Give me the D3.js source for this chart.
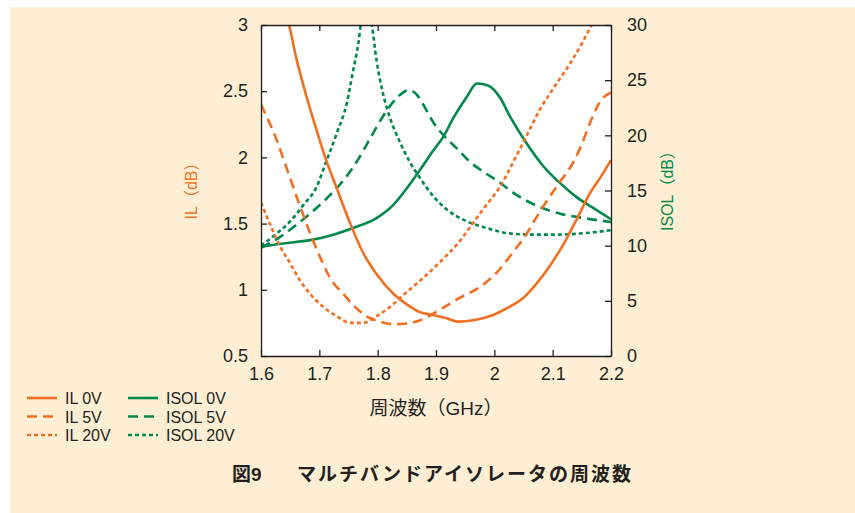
<!DOCTYPE html>
<html>
<head>
<meta charset="utf-8">
<script src="https://cdn.jsdelivr.net/npm/d3@7"></script>
<style>
  body { margin: 0; background: #ffffff; }
  svg text { font-family: "Liberation Sans", Arial, "Noto Sans CJK JP", sans-serif; fill: #231f20; }
  .tick text { font-size: 18px; }
</style>
</head>
<body>
<div id="chart"></div>
<script>
// frequency axis (GHz)
const xTicks = [1.6, 1.7, 1.8, 1.9, 2.0, 2.1, 2.2];
const ilTicks = [0.5, 1, 1.5, 2, 2.5, 3];
const isolTicks = [0, 5, 10, 15, 20, 25, 30];

// IL (dB), left axis
const il0Freq = [1.640, 1.648, 1.661, 1.678, 1.695, 1.710, 1.727, 1.753, 1.775, 1.798, 1.827, 1.850, 1.873, 1.895, 1.918, 1.938, 1.964, 1.998, 2.021, 2.050, 2.073, 2.095, 2.118, 2.141, 2.164, 2.185, 2.200];
const il0Val  = [3.10, 3.00, 2.74, 2.46, 2.21, 2.00, 1.80, 1.50, 1.28, 1.12, 0.97, 0.89, 0.83, 0.81, 0.785, 0.76, 0.77, 0.81, 0.86, 0.94, 1.05, 1.18, 1.34, 1.53, 1.73, 1.87, 1.98];

const il5Freq = [1.600, 1.627, 1.647, 1.667, 1.684, 1.701, 1.721, 1.741, 1.758, 1.781, 1.804, 1.827, 1.850, 1.873, 1.907, 1.941, 1.975, 2.004, 2.033, 2.055, 2.067, 2.084, 2.110, 2.135, 2.150, 2.164, 2.181, 2.200];
const il5Val  = [2.40, 2.13, 1.88, 1.63, 1.43, 1.25, 1.07, 0.97, 0.885, 0.80, 0.76, 0.74, 0.745, 0.77, 0.85, 0.94, 1.02, 1.13, 1.29, 1.42, 1.51, 1.63, 1.80, 1.96, 2.10, 2.26, 2.42, 2.49];

const il20Freq = [1.600, 1.615, 1.633, 1.650, 1.667, 1.684, 1.707, 1.730, 1.753, 1.775, 1.798, 1.821, 1.844, 1.873, 1.907, 1.941, 1.958, 1.981, 2.010, 2.033, 2.055, 2.078, 2.107, 2.130, 2.150, 2.167, 2.175];
const il20Val  = [1.66, 1.50, 1.325, 1.20, 1.07, 0.97, 0.87, 0.80, 0.75, 0.75, 0.80, 0.87, 0.96, 1.07, 1.21, 1.37, 1.47, 1.61, 1.78, 1.97, 2.16, 2.36, 2.56, 2.71, 2.86, 3.00, 3.06];

// ISOL (dB), right axis
const isol0Freq = [1.600, 1.638, 1.684, 1.724, 1.758, 1.798, 1.827, 1.850, 1.873, 1.895, 1.913, 1.930, 1.953, 1.970, 1.990, 2.010, 2.027, 2.055, 2.084, 2.110, 2.141, 2.170, 2.200];
const isol0Val  = [9.9, 10.2, 10.5, 11.0, 11.6, 12.5, 13.7, 15.2, 16.9, 18.6, 19.9, 21.6, 23.5, 24.7, 24.5, 23.4, 21.7, 19.3, 17.2, 15.8, 14.4, 13.4, 12.4];

const isol5Freq = [1.600, 1.633, 1.661, 1.684, 1.713, 1.741, 1.764, 1.787, 1.810, 1.833, 1.853, 1.867, 1.878, 1.895, 1.913, 1.936, 1.958, 1.987, 2.007, 2.038, 2.078, 2.113, 2.153, 2.200];
const isol5Val  = [9.8, 10.8, 11.9, 12.9, 14.3, 15.9, 17.6, 19.7, 21.8, 23.4, 24.1, 23.7, 22.8, 21.2, 20.0, 18.8, 17.6, 16.5, 15.8, 14.6, 13.5, 12.9, 12.5, 12.15];

const isol20Freq = [1.600, 1.627, 1.650, 1.673, 1.695, 1.713, 1.730, 1.747, 1.758, 1.767, 1.771, 1.780, 1.790, 1.798, 1.810, 1.821, 1.838, 1.855, 1.873, 1.895, 1.918, 1.953, 1.987, 2.027, 2.067, 2.107, 2.147, 2.200];
const isol20Val  = [10.0, 11.1, 12.2, 13.7, 15.3, 17.8, 20.2, 22.9, 25.9, 28.4, 30.0, 32.0, 30.0, 26.8, 23.6, 21.6, 19.4, 17.6, 16.1, 14.5, 13.3, 12.2, 11.6, 11.1, 11.0, 11.0, 11.1, 11.4];

const legendLabels = [["IL 0V", "IL 5V", "IL 20V"], ["ISOL 0V", "ISOL 5V", "ISOL 20V"]];

const orange = "#f26f21";
const green = "#00894a";
const dashes = [null, "10,6", "4,3"];

let w = 855, h = 513;
let pLeft = 261, pRight = 611, pTop = 25, pBottom = 356;

var svg = d3.select("#chart")
    .append("svg")
    .attr("width", w)
    .attr("height", h);

svg.append("rect")
    .attr("x", 10).attr("y", 7)
    .attr("width", w - 10).attr("height", h - 7)
    .attr("fill", "#feefd4");

svg.append("rect")
    .attr("x", pLeft).attr("y", pTop)
    .attr("width", pRight - pLeft).attr("height", pBottom - pTop)
    .attr("fill", "#ffffff");

var xScale = d3.scaleLinear().domain([1.6, 2.2]).range([pLeft, pRight]);
var yIL = d3.scaleLinear().domain([0.5, 3]).range([pBottom, pTop]);
var yISOL = d3.scaleLinear().domain([0, 30]).range([pBottom, pTop]);

svg.append("defs").append("clipPath").attr("id", "plotclip")
    .append("rect")
    .attr("x", pLeft).attr("y", pTop)
    .attr("width", pRight - pLeft).attr("height", pBottom - pTop);

function drawSeries(freq, val, yScale, color, dash){
    let pts = freq.map(function(f, i){ return [f, val[i]]; });
    let line = d3.line()
        .x(function(d){ return xScale(d[0]); })
        .y(function(d){ return yScale(d[1]); })
        .curve(d3.curveMonotoneX);
    svg.append("path")
        .datum(pts)
        .attr("clip-path", "url(#plotclip)")
        .attr("d", line)
        .attr("fill", "none")
        .attr("stroke", color)
        .attr("stroke-width", 2.6)
        .attr("stroke-dasharray", dash);
}

drawSeries(isol0Freq, isol0Val, yISOL, green, dashes[0]);
drawSeries(isol5Freq, isol5Val, yISOL, green, dashes[1]);
drawSeries(isol20Freq, isol20Val, yISOL, green, dashes[2]);
drawSeries(il0Freq, il0Val, yIL, orange, dashes[0]);
drawSeries(il5Freq, il5Val, yIL, orange, dashes[1]);
drawSeries(il20Freq, il20Val, yIL, orange, dashes[2]);

// axes, ticks pointing inward
var fmt = function(d){ return String(d); };

svg.append("g")
    .attr("transform", "translate(0," + pBottom + ")")
    .call(d3.axisBottom(xScale).tickValues(xTicks).tickFormat(fmt).tickSizeInner(-6).tickSizeOuter(0).tickPadding(11));

svg.append("g")
    .attr("transform", "translate(0," + pTop + ")")
    .call(d3.axisTop(xScale).tickValues(xTicks).tickFormat("").tickSizeInner(-6).tickSizeOuter(0));

svg.append("g")
    .attr("transform", "translate(" + pLeft + ",0)")
    .call(d3.axisLeft(yIL).tickValues(ilTicks).tickFormat(fmt).tickSizeInner(-6).tickSizeOuter(0).tickPadding(13));

svg.append("g")
    .attr("transform", "translate(" + pRight + ",0)")
    .call(d3.axisRight(yISOL).tickValues(isolTicks).tickFormat(fmt).tickSizeInner(-6).tickSizeOuter(0).tickPadding(16));

svg.selectAll(".domain").attr("stroke", "#231f20").attr("stroke-width", 1.3);
svg.selectAll(".tick line").attr("stroke", "#231f20").attr("stroke-width", 1.3);
svg.selectAll(".tick text").style("fill", "#231f20");

// axis titles
svg.append("text")
    .attr("transform", "translate(197,187) rotate(-90)")
    .style("text-anchor", "middle")
    .style("font-size", "16px")
    .style("fill", orange)
    .text("IL（dB）");

svg.append("text")
    .attr("transform", "translate(673,187) rotate(-90)")
    .style("text-anchor", "middle")
    .style("font-size", "16px")
    .style("fill", green)
    .text("ISOL（dB）");

svg.append("text")
    .attr("x", 436).attr("y", 415)
    .style("text-anchor", "middle")
    .style("font-size", "19px")
    .text("周波数（GHz）");

// legend
legendLabels.forEach(function(col, c){
    let lx = c == 0 ? 27 : 128;
    let color = c == 0 ? orange : green;
    col.forEach(function(lab, r){
        let ly = 398 + r * 18.5;
        svg.append("line")
            .attr("x1", lx).attr("x2", lx + 30)
            .attr("y1", ly).attr("y2", ly)
            .attr("stroke", color)
            .attr("stroke-width", 2.6)
            .attr("stroke-dasharray", dashes[r]);
        svg.append("text")
            .attr("x", lx + 38).attr("y", ly + 6)
            .style("font-size", "16px")
            .text(lab);
    });
});

// caption
svg.append("text")
    .attr("x", 232).attr("y", 481)
    .style("font-size", "19px")
    .style("font-weight", "bold")
    .text("図9");

svg.append("text")
    .attr("x", 297).attr("y", 481)
    .style("font-size", "19px")
    .style("font-weight", "bold")
    .style("letter-spacing", "2px")
    .text("マルチバンドアイソレータの周波数");
</script>
</body>
</html>
